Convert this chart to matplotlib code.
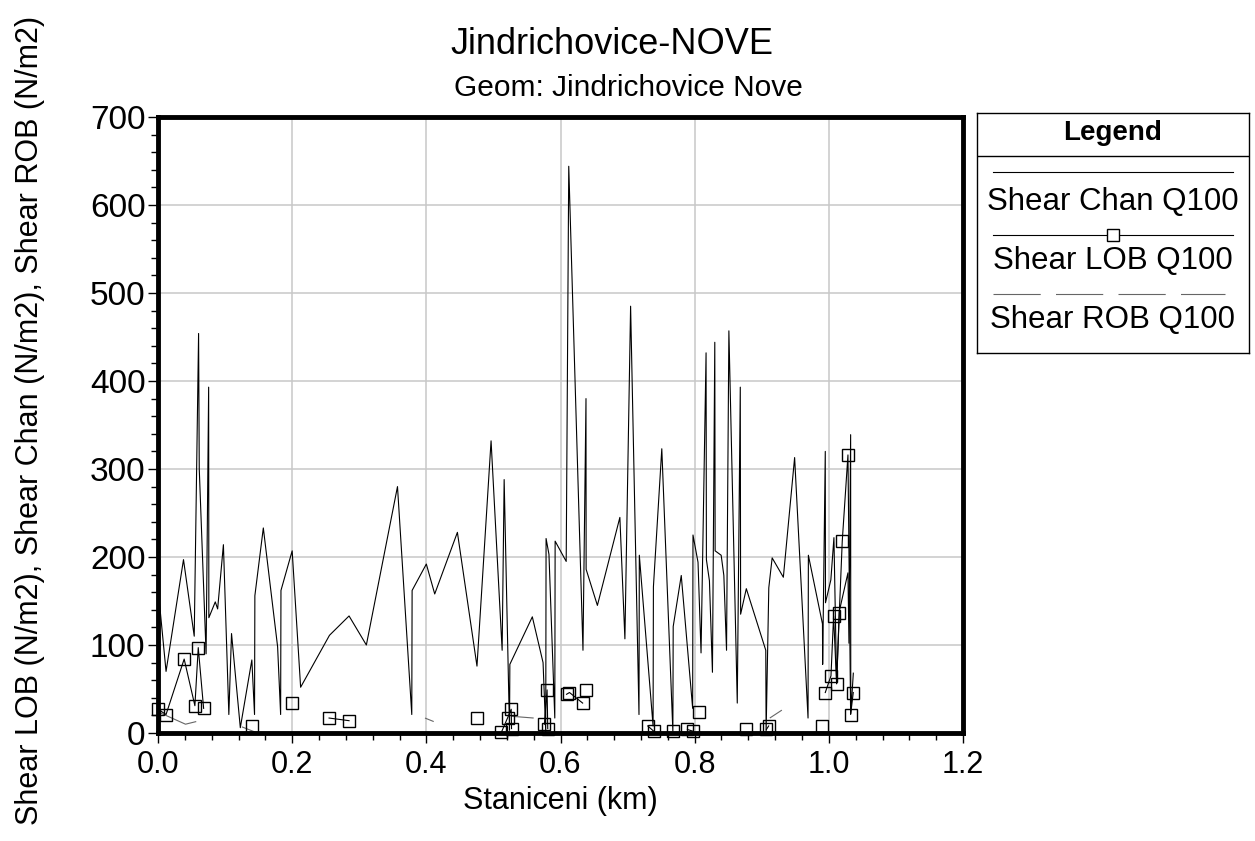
import numpy as np
import matplotlib
matplotlib.use("Agg")
import matplotlib.pyplot as plt
from matplotlib.ticker import MultipleLocator

plt.rcParams["font.family"] = ["Liberation Sans", "DejaVu Sans"]
plt.rcParams["lines.scale_dashes"] = False

title = "Jindrichovice-NOVE"
subtitle = "Geom: Jindrichovice Nove"
x_label = "Staniceni (km)"
y_label = "Shear LOB (N/m2), Shear Chan (N/m2), Shear ROB (N/m2)"
series_names = ["Shear Chan Q100", "Shear LOB Q100", "Shear ROB Q100"]

# ---- channel shear ----
chan_km = [0.000, 0.012, 0.038, 0.054, 0.0605, 0.0615, 0.0717, 0.0755, 0.0758, 0.0854,
           0.0889, 0.0975, 0.1056, 0.1096, 0.1227, 0.1399, 0.1439, 0.1444, 0.157, 0.1783,
           0.1828, 0.1833, 0.200, 0.2126, 0.2556, 0.2848, 0.3106, 0.357, 0.3783, 0.3788,
           0.400, 0.4125, 0.4463, 0.4755, 0.4965, 0.5130, 0.5160, 0.5240, 0.5245, 0.5580,
           0.5740, 0.5780, 0.5785, 0.5828, 0.5915, 0.5920, 0.6085, 0.6123, 0.6335, 0.6380,
           0.6382, 0.6550, 0.6885, 0.6960, 0.7045, 0.7170, 0.7175, 0.7380, 0.7385, 0.7510,
           0.7675, 0.7680, 0.7800, 0.7970, 0.7975, 0.8050, 0.8095, 0.8170, 0.8175, 0.8220,
           0.8265, 0.8300, 0.8305, 0.8395, 0.8435, 0.8475, 0.8510, 0.8635, 0.8680, 0.8685,
           0.8770, 0.9060, 0.9065, 0.9105, 0.9155, 0.9322, 0.9490, 0.9690, 0.9695, 0.9905,
           0.9908, 0.9947, 0.9950, 1.0030, 1.0076, 1.0116, 1.0155, 1.0285, 1.0300, 1.0325,
           1.0327, 1.0365]
chan_shear = [165, 70, 197, 110, 454, 300, 90, 393, 131, 149,
              141, 214, 21, 113, 6, 83, 21, 156, 233, 98,
              21, 162, 207, 52, 111, 133, 100, 280, 21, 162,
              192, 158, 228, 76, 332, 94, 288, 3, 78, 132,
              80, 1, 221, 203, 17, 218, 195, 644, 94, 380,
              186, 145, 245, 107, 485, 21, 202, 8, 166, 323,
              2, 121, 179, 28, 225, 194, 91, 432, 197, 173,
              69, 444, 207, 202, 179, 94, 457, 34, 393, 135,
              164, 94, 1, 165, 199, 177, 313, 17, 202, 124,
              78, 320, 148, 174, 222, 56, 138, 182, 102, 339,
              22, 68]

# ---- left overbank shear (nan = no value) ----
lob_km = [0.000, 0.012, 0.039, 0.055, 0.060, 0.068, np.nan,
          0.140, np.nan, 0.200, np.nan, 0.255, 0.2848, np.nan,
          0.475, np.nan, 0.512, 0.521, 0.5265, 0.527, np.nan,
          0.576, 0.580, 0.581, np.nan, 0.609, 0.6134, 0.633, np.nan, 0.638, np.nan,
          0.7301, 0.739, np.nan, 0.7678, np.nan, 0.7892, 0.7976, np.nan, 0.806, np.nan,
          0.8771, np.nan, 0.9069, 0.9103, np.nan, 0.9903, np.nan,
          0.9947, 1.0032, 1.0071, 1.0116, 1.0156, 1.020, 1.0285, 1.0325, 1.0364]
lob_shear = [27, 21, 84, 31, 97, 28, np.nan,
             8, np.nan, 34, np.nan, 17, 14, np.nan,
             17, np.nan, 1, 17, 27, 5, np.nan,
             10, 49, 5, np.nan, 44, 46, 34, np.nan, 49, np.nan,
             8, 2, np.nan, 2, np.nan, 4, 2, np.nan, 24, np.nan,
             5, np.nan, 4, 8, np.nan, 8, np.nan,
             46, 65, 133, 56, 136, 218, 316, 21, 46]

# ---- right overbank shear ----
rob_km = [0.000, 0.041, 0.057, np.nan, 0.125, 0.145, np.nan, 0.398, 0.411, np.nan,
          0.527, 0.560, np.nan, 0.912, 0.930]
rob_shear = [24, 10, 13, np.nan, 7, 1, np.nan, 17, 13, np.nan,
             19, 17, np.nan, 17, 26]

W, H = 1255, 841
fig = plt.figure(figsize=(W / 100, H / 100), dpi=100)
ax = fig.add_axes([158 / W, 1 - 733 / H, 805 / W, 616 / H])

ax.plot(chan_km, chan_shear, color="black", lw=0.8)
ax.plot(lob_km, lob_shear, color="black", lw=0.8, marker="s", ms=8,
        mfc="none", mec="black", mew=1.0, clip_on=False, zorder=4)
ax.plot(rob_km, rob_shear, color="#666666", lw=0.8, ls=(0, (34, 11)))

ax.set_xlim(0, 1.2)
ax.set_ylim(0, 700)
ax.xaxis.set_major_locator(MultipleLocator(0.2))
ax.xaxis.set_minor_locator(MultipleLocator(0.04))
ax.yaxis.set_major_locator(MultipleLocator(100))
ax.yaxis.set_minor_locator(MultipleLocator(20))
ax.xaxis.set_major_formatter(plt.FuncFormatter(lambda v, p: f"{v:.1f}"))
ax.tick_params(which="major", direction="out", length=7, width=1)
ax.tick_params(which="minor", direction="out", length=5, width=1)
ax.tick_params(axis="x", which="major", labelsize=22, pad=5)
ax.tick_params(axis="y", which="major", labelsize=24, pad=2)
ax.grid(True, which="major", color="#c8c8c8", lw=1.1)
ax.set_axisbelow(True)
for s in ax.spines.values():
    s.set_linewidth(3.5)

fig.text(612 / W, 1 - 44 / H, title, ha="center", va="center", fontsize=26)
fig.text(628 / W, 1 - 88 / H, subtitle, ha="center", va="center", fontsize=21.5)
fig.text(560 / W, 1 - 801 / H, x_label, ha="center", va="center", fontsize=22)
fig.text(30 / W, 1 - 420 / H, y_label, ha="center", va="center", rotation=90, fontsize=22)

# legend box drawn in pixel coordinates
lax = fig.add_axes([977 / W, 1 - 353 / H, 272 / W, 240 / H])
lax.set_xlim(977, 1249)
lax.set_ylim(353, 113)
lax.set_xticks([])
lax.set_yticks([])
for s in lax.spines.values():
    s.set_linewidth(1.0)
lax.text(1113, 133, "Legend", ha="center", va="center", fontsize=20, fontweight="bold")
lax.axhline(156, color="black", lw=1.0)
lax.plot([993, 1233], [172, 172], color="black", lw=0.8)
lax.text(1113, 202, series_names[0], ha="center", va="center", fontsize=22.5)
lax.plot([993, 1233], [235, 235], color="black", lw=0.8)
lax.plot([1113], [235], marker="s", ms=8, mfc="white", mec="black", mew=1.0)
lax.text(1113, 261, series_names[1], ha="center", va="center", fontsize=22.5)
lax.plot([993, 1225], [294, 294], color="#666666", lw=0.8, ls=(0, (34, 11)))
lax.text(1113, 320, series_names[2], ha="center", va="center", fontsize=22.5)

fig.savefig("out.png", dpi=100)
